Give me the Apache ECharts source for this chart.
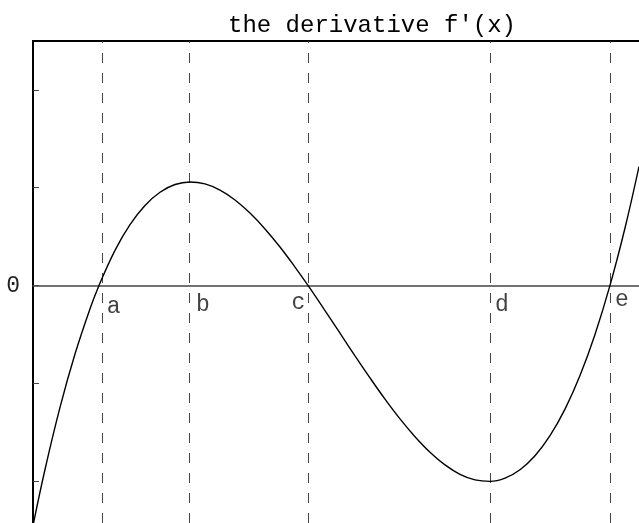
<!DOCTYPE html>
<html>
<head>
<meta charset="utf-8">
<style>
  html, body { margin: 0; padding: 0; background: #fff; }
  #chart { width: 639px; height: 523px; }
</style>
<script src="https://cdn.jsdelivr.net/npm/echarts@6/dist/echarts.min.js"></script>
</head>
<body>
<div id="chart"></div>
<script>
(function () {
  const xValues = [0, 0.12, 0.27, 0.42, 0.57, 0.66, 0.82, 0.97, 1.12, 1.27, 1.42, 1.57, 1.72, 1.87,
    2.02, 2.17, 2.32, 2.47, 2.62, 2.75, 2.92, 3.07, 3.22, 3.37, 3.52, 3.67, 3.82, 3.97, 4.12,
    4.27, 4.42, 4.57, 4.72, 4.87, 5.02, 5.17, 5.32, 5.47, 5.62, 5.77, 5.92, 6.06];
  const derivValues = [-2.458, -1.883, -1.248, -0.702, -0.239, 0, 0.359, 0.622, 0.818, 0.953,
    1.032, 1.058, 1.038, 0.975, 0.874, 0.740, 0.578, 0.393, 0.188, 0, -0.257, -0.489, -0.720,
    -0.946, -1.163, -1.365, -1.547, -1.706, -1.836, -1.932, -1.989, -2.004, -1.971, -1.885,
    -1.742, -1.537, -1.265, -0.921, -0.501, 0, 0.587, 1.216];

  // dashed markers
  const markNames = ['a', 'b', 'c', 'd', 'e'];
  const markX = [0.687, 1.56, 2.753, 4.57, 5.77];

  const yTickValues = [-2, -1, 0, 1, 2];
  const yLabelValues = [0];

  const font = "'Liberation Mono', 'DejaVu Sans Mono', monospace";
  const ink = '#000';
  const gray = '#444';

  // label placement next to each dashed line (pixels)
  const labelPlace = [
    { position: 'right', offset: [0, 21] },
    { position: 'right', offset: [2, 19] },
    { position: 'left', offset: [2, 17] },
    { position: 'right', offset: [0, 19] },
    { position: 'right', offset: [0, 14] },
  ];

  const chart = echarts.init(document.getElementById('chart'));

  chart.setOption({
    animation: false,
    backgroundColor: '#fff',
    title: {
      text: "the derivative f'(x)",
      left: 367,
      top: 9,
      textAlign: 'center',
      textStyle: { fontFamily: font, fontSize: 24, fontWeight: 'normal', color: ink },
    },
    grid: { left: 33, top: 41, width: 606, height: 482, show: false },
    xAxis: [
      {
        type: 'value',
        min: 0,
        max: 6.06,
        axisLine: { onZero: true, lineStyle: { color: gray, width: 1.5 } },
        axisTick: { show: false },
        axisLabel: { show: false },
        splitLine: { show: false },
      },
      {
        type: 'value',
        position: 'top',
        min: 0,
        max: 6.06,
        axisLine: { onZero: false, lineStyle: { color: ink, width: 2 } },
        axisTick: { show: false },
        axisLabel: { show: false },
        splitLine: { show: false },
      },
    ],
    yAxis: {
      type: 'value',
      min: -2.43,
      max: 2.5,
      axisLine: { show: true, onZero: false, lineStyle: { color: ink, width: 2 } },
      axisTick: {
        show: true,
        inside: true,
        length: 6,
        customValues: yTickValues,
        lineStyle: { color: gray, width: 1 },
      },
      axisLabel: {
        show: true,
        customValues: yLabelValues,
        margin: 13,
        fontFamily: font,
        fontSize: 23,
        color: '#222',
      },
      splitLine: { show: false },
    },
    series: [
      {
        type: 'line',
        data: xValues.map((x, i) => [x, derivValues[i]]),
        smooth: 0.4,
        symbol: 'none',
        lineStyle: { color: ink, width: 1.4 },
        z: 5,
        markLine: {
          silent: true,
          symbol: 'none',
          label: { show: false },
          lineStyle: { color: gray, width: 1, type: [10, 10] },
          data: markX.map((x) => ({ xAxis: x })),
        },
      },
      {
        type: 'scatter',
        symbolSize: 0,
        silent: true,
        data: markX.map((x, i) => ({
          value: [x, 0],
          label: {
            show: true,
            formatter: markNames[i],
            position: labelPlace[i].position,
            offset: labelPlace[i].offset,
            distance: 5,
            fontFamily: font,
            fontSize: 23,
            color: '#111',
          },
        })),
      },
    ],
  });

  window.addEventListener('resize', () => chart.resize());
})();
</script>
</body>
</html>
